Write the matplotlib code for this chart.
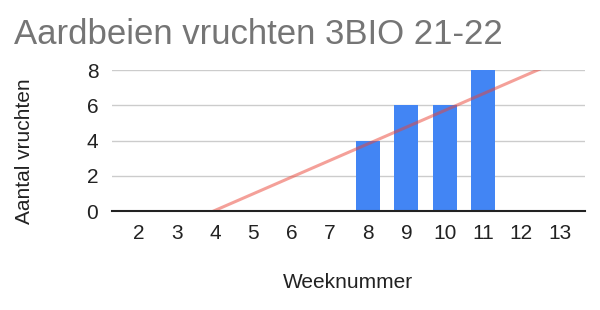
import numpy as np
import matplotlib
matplotlib.use('Agg')
import matplotlib.pyplot as plt

plt.rcParams['font.family'] = ['Liberation Sans', 'DejaVu Sans']

# week numbers on the axis and counted fruits (weeks 12 and 13 have no entry)
weeks = [2, 3, 4, 5, 6, 7, 8, 9, 10, 11, 12, 13]
fruits = [0, 0, 0, 0, 0, 0, 4, 6, 6, 8, None, None]

TITLE = 'Aardbeien vruchten 3BIO 21-22'
XLABEL = 'Weeknummer'
YLABEL = 'Aantal vruchten'

fig = plt.figure(figsize=(6, 3.1), dpi=100)
ax = fig.add_axes([0.187, 0.319, 0.788, 0.455])

x_known = np.array([w for w, v in zip(weeks, fruits) if v is not None], float)
y_known = np.array([v for v in fruits if v is not None], float)

ax.bar(x_known, y_known, width=0.625, color='#4285f4', zorder=2)

# linear trendline as in the spreadsheet chart
slope, icpt = np.polyfit(x_known, y_known, 1)
xlim = (weeks[0] - 0.68, weeks[-1] + 0.66)
xs = np.array(xlim)
ax.plot(xs, slope * xs + icpt, color='#ea4335', alpha=0.5, lw=2.2, zorder=3)

ax.set_xlim(*xlim)
ax.set_ylim(0, 8)
ax.set_xticks(weeks)
ax.set_yticks([0, 2, 4, 6, 8])
ax.tick_params(length=0, labelsize=15, colors='#222222')
ax.tick_params(axis='x', pad=9)
ax.tick_params(axis='y', pad=10)
ax.grid(axis='y', color='#cccccc', lw=1, zorder=0)
ax.set_axisbelow(True)
for side in ['top', 'right', 'left']:
    ax.spines[side].set_visible(False)
ax.spines['bottom'].set_color('#222222')
ax.spines['bottom'].set_linewidth(1.5)
ax.spines['bottom'].set_zorder(4)

fig.text(14 / 600, 1 - 44 / 310, TITLE, fontsize=25, color='#757575',
         va='baseline', ha='left')
fig.text(348 / 600, 1 - 282 / 310, XLABEL, fontsize=15, color='#222222',
         ha='center', va='center')
fig.text(25 / 600, 1 - 151 / 310, YLABEL, fontsize=15, color='#222222',
         ha='center', va='center', rotation=90)

fig.savefig('out.png', dpi=100)
